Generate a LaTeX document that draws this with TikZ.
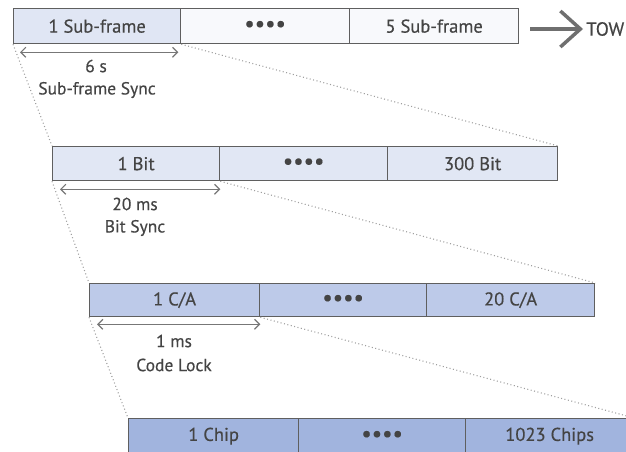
\documentclass[tikz,border=0pt]{standalone}
\usepackage{fontspec}
\setmainfont{PT Sans}[FakeBold=0.4]
\usetikzlibrary{arrows.meta}
\definecolor{fA}{RGB}{224,230,244}
\definecolor{fW}{RGB}{248,249,252}
\definecolor{fB}{RGB}{225,231,244}
\definecolor{fC}{RGB}{189,202,233}
\definecolor{fD}{RGB}{161,180,222}
\definecolor{edge}{RGB}{95,95,95}
\definecolor{txt}{RGB}{68,68,68}
\newcommand{\dts}{\raisebox{-1pt}{\fontsize{23}{23}\selectfont ••••}}
\begin{document}
\begin{tikzpicture}[x=1pt,y=-1pt,
  cell/.style={draw=edge, line width=1.3pt, anchor=north west, inner sep=0pt,
    text=txt, font=\fontsize{18.5}{20}\selectfont},
  lbl/.style={text=txt, font=\fontsize{17.5}{20}\selectfont, inner sep=1pt},
  dim/.style={draw=edge!85, line width=1.2pt, {Straight Barb[length=5pt,width=10pt]}-{Straight Barb[length=5pt,width=10pt]}},
  zoomline/.style={draw=gray!75, line width=1.1pt, dash pattern=on 1pt off 2.5pt},
  bigarrow/.style={draw=edge!90, line width=3.5pt, -{Straight Barb[length=20pt,width=36pt,line width=3.5pt]}}
]
\useasboundingbox (0,0) rectangle (626,452);
\clip (0,0) rectangle (626,452);
% row 1
\node[cell, fill=fA, minimum width=167pt, minimum height=35pt] (a1) at (13,8) {1 Sub-frame};
\node[cell, fill=fW, minimum width=169pt, minimum height=35pt] (a2) at (180,8) {\dts};
\node[cell, fill=fW, minimum width=169pt, minimum height=35pt] (a3) at (349,8) {5 Sub-frame};
% row 2
\node[cell, fill=fB, minimum width=167pt, minimum height=34pt] (b1) at (52,146) {1 Bit};
\node[cell, fill=fB, minimum width=168pt, minimum height=34pt] (b2) at (219,146) {\dts};
\node[cell, fill=fB, minimum width=170pt, minimum height=34pt] (b3) at (387,146) {300 Bit};
% row 3
\node[cell, fill=fC, minimum width=170pt, minimum height=33pt] (c1) at (89,283) {1 C/A};
\node[cell, fill=fC, minimum width=167pt, minimum height=33pt] (c2) at (259,283) {\dts};
\node[cell, fill=fC, minimum width=168pt, minimum height=33pt] (c3) at (426,283) {20 C/A};
% row 4
\node[cell, fill=fD, minimum width=170pt, minimum height=35pt] (d1) at (128,418) {1 Chip};
\node[cell, fill=fD, minimum width=167pt, minimum height=35pt] (d2) at (298,418) {\dts};
\node[cell, fill=fD, minimum width=168pt, minimum height=35pt] (d3) at (465,418) {1023 Chips};
% zoom lines
\draw[zoomline] (a1.south west) -- (b1.north west);
\draw[zoomline] (a1.south east) -- (b3.north east);
\draw[zoomline] (b1.south west) -- (c1.north west);
\draw[zoomline] (b1.south east) -- (c3.north east);
\draw[zoomline] (c1.south west) -- (d1.north west);
\draw[zoomline] (c1.south east) -- (d3.north east);
% dimension arrows
\draw[dim] ([xshift=7pt,yshift=-8pt]a1.south west) -- ([xshift=-3pt,yshift=-8pt]a1.south east);
\draw[dim] ([xshift=8pt,yshift=-8pt]b1.south west) -- ([yshift=-8pt]b1.south east);
\draw[dim] ([xshift=8pt,yshift=-7pt]c1.south west) -- ([yshift=-7pt]c1.south east);
% labels
\node[lbl] (l1a) at (96,66) {6 s};
\node[lbl] (l1b) at (97,90) {Sub-frame Sync};
\node[lbl] (l2a) at (135,204) {20 ms};
\node[lbl] (l2b) at (135,228) {Bit Sync};
\node[lbl] (l3a) at (174,341) {1 ms};
\node[lbl] (l3b) at (174,365) {Code Lock};
% TOW
\node[lbl, anchor=west, inner xsep=3pt, font=\fontsize{19}{20}\selectfont] (tow) at (583,29) {TOW};
\coordinate (tstart) at (530,29);
\draw[bigarrow] (tstart) -- (tow.west);
\end{tikzpicture}
\end{document}
